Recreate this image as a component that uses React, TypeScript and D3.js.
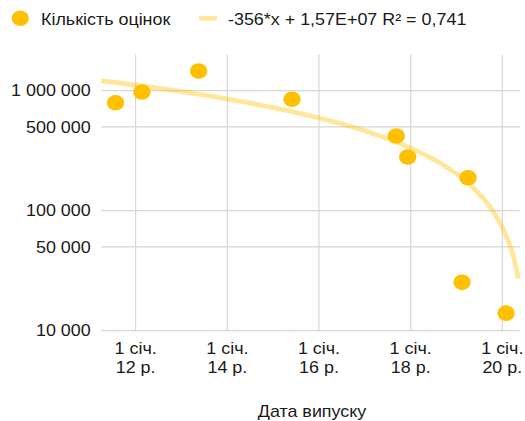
import React from "react";
import * as d3 from "d3";

// ---- data ----
const releaseDates: string[] = [
  "2011-07-25", "2012-02-20", "2013-05-17", "2015-05-31", "2017-09-08",
  "2017-12-08", "2019-04-03", "2019-02-14", "2020-01-31",
];
const ratingCounts: number[] = [
  795000, 975000, 1459000, 848000, 419500, 280000, 188000, 25300, 14000,
];

const yTickValues: number[] = [10000, 50000, 100000, 500000, 1000000];
const yTickLabels: string[] = ["10 000", "50 000", "100 000", "500 000", "1 000 000"];

const xTickDates: string[] = ["2012-01-01", "2014-01-01", "2016-01-01", "2018-01-01", "2020-01-01"];
const xTickLine1: string[] = ["1 січ.", "1 січ.", "1 січ.", "1 січ.", "1 січ."];
const xTickLine2: string[] = ["12 р.", "14 р.", "16 р.", "18 р.", "20 р."];

const seriesName = "Кількість оцінок";
const trendLabel = "-356*x + 1,57E+07 R² = 0,741";
const xAxisTitle = "Дата випуску";

// linear trendline (Excel serial date x)
const trendSlope = -356;
const trendIntercept = 15676600;
const trendRange: string[] = ["2011-03-31", "2020-05-08"];
const xDomain: string[] = ["2011-03-31", "2020-05-21"];
const yDomain: number[] = [10000, 2000000];

// ---- layout ----
const W = 525, H = 421;
const plot = { left: 101, right: 520, top: 54.6, bottom: 330.7 };
const FONT = "'Liberation Sans', Arial, sans-serif";
const FS = 16;
const SX = 1.12;
const TEXT = "#1a1a1a";
const GRID = "#d6d6d6";
const GOLD = "#FFC000";

const parse = (s: string) => new Date(s + "T00:00:00Z");
const excelEpoch = Date.UTC(1899, 11, 30);
const toSerial = (d: Date) => (d.getTime() - excelEpoch) / 86400000;

function T({ x, y, anchor = "start", children }: any) {
  return (
    <text
      transform={`translate(${x},${y}) scale(${SX},1)`}
      textAnchor={anchor}
      fontFamily={FONT}
      fontSize={FS}
      fill={TEXT}
    >
      {children}
    </text>
  );
}

export default function App() {
  const x = d3
    .scaleUtc()
    .domain([parse(xDomain[0]), parse(xDomain[1])])
    .range([plot.left, plot.right]);
  const y = d3.scaleLog().domain(yDomain).range([plot.bottom, plot.top]);

  const t0 = parse(trendRange[0]).getTime();
  const t1 = parse(trendRange[1]).getTime();
  const N = 300;
  const trendPts: [number, number][] = d3.range(N + 1).map((i) => {
    const d = new Date(t0 + ((t1 - t0) * i) / N);
    const v = trendSlope * toSerial(d) + trendIntercept;
    return [x(d), y(v)];
  });
  const trendPath = d3.line()(trendPts) || "";

  const capHalf = (FS * 0.716) / 2;

  return (
    <svg
      width={W}
      height={H}
      style={{ position: "absolute", left: 0, top: 0, background: "#fff" }}
    >
      <rect x={0} y={0} width={W} height={H} fill="#fff" />
      {/* horizontal grid */}
      {yTickValues.map((v) => (
        <line
          key={"h" + v}
          x1={plot.left}
          x2={plot.right}
          y1={y(v)}
          y2={y(v)}
          stroke={GRID}
          strokeWidth={1.2}
        />
      ))}
      {/* vertical grid */}
      {xTickDates.map((s) => (
        <line
          key={"v" + s}
          x1={x(parse(s))}
          x2={x(parse(s))}
          y1={plot.top}
          y2={plot.bottom}
          stroke={GRID}
          strokeWidth={1.2}
        />
      ))}
      {/* y labels */}
      {yTickValues.map((v, i) => (
        <T key={"yl" + v} x={90.7} y={y(v) + capHalf} anchor="end">
          {yTickLabels[i]}
        </T>
      ))}
      {/* x labels */}
      {xTickDates.map((s, i) => (
        <g key={"xl" + s}>
          <T x={x(parse(s))} y={354} anchor="middle">
            {xTickLine1[i]}
          </T>
          <T x={x(parse(s))} y={373} anchor="middle">
            {xTickLine2[i]}
          </T>
        </g>
      ))}
      <T x={(plot.left + plot.right) / 2 + 1.5} y={417} anchor="middle">
        {xAxisTitle}
      </T>
      {/* trend line */}
      <path
        d={trendPath}
        fill="none"
        stroke={GOLD}
        strokeOpacity={0.4}
        strokeWidth={4.7}
        strokeLinecap="butt"
      />
      {/* points */}
      {releaseDates.map((s, i) => (
        <ellipse
          key={"p" + i}
          cx={x(parse(s))}
          cy={y(ratingCounts[i])}
          rx={8.7}
          ry={7.8}
          fill={GOLD}
        />
      ))}
      {/* legend */}
      <ellipse cx={20.3} cy={18.3} rx={8.6} ry={7.7} fill={GOLD} />
      <T x={41} y={24.5}>
        {seriesName}
      </T>
      <line
        x1={199}
        x2={217}
        y1={18.3}
        y2={18.3}
        stroke={GOLD}
        strokeOpacity={0.4}
        strokeWidth={4.5}
      />
      <T x={228} y={24.5}>
        {trendLabel}
      </T>
    </svg>
  );
}
